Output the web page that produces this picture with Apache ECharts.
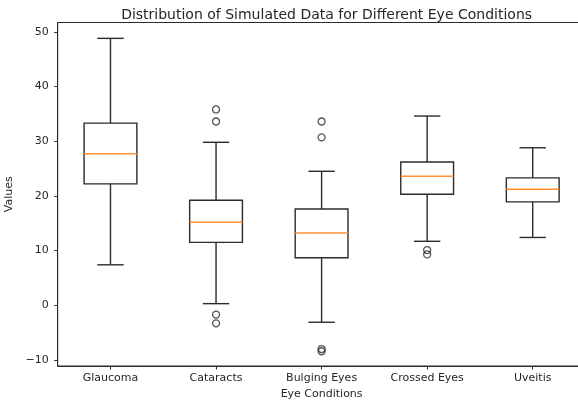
<!DOCTYPE html>
<html>
<head>
<meta charset="utf-8">
<script src="https://cdn.jsdelivr.net/npm/echarts@6/dist/echarts.min.js"></script>
<style>
html,body{margin:0;padding:0;background:#fff;overflow:hidden;width:578px;height:404px;}
#chart{width:586px;height:404px;}
</style>
</head>
<body>
<div id="chart"></div>
<script>
const categories = ['Glaucoma', 'Cataracts', 'Bulging Eyes', 'Crossed Eyes', 'Uveitis'];
const whiskerLow  = [7.4, 0.3, -3.1, 11.7, 12.4];
const q1Values    = [22.2, 11.5, 8.7, 20.3, 18.9];
const medians     = [27.7, 15.2, 13.2, 23.6, 21.2];
const q3Values    = [33.3, 19.2, 17.6, 26.2, 23.3];
const whiskerHigh = [48.8, 29.8, 24.5, 34.6, 28.8];
const outlierCategory = [1, 1, 1, 1, 2, 2, 2, 2, 3, 3];
const outlierValues   = [35.8, 33.6, -1.7, -3.3, 33.6, 30.7, -8.0, -8.4, 10.1, 9.3];
const yTicks = [-10, 0, 10, 20, 30, 40, 50];

const boxData = categories.map((c, i) => [i, whiskerLow[i], q1Values[i], medians[i], q3Values[i], whiskerHigh[i]]);
const outlierData = outlierCategory.map((c, i) => [c, outlierValues[i]]);

const lineColor = '#2b2b2b';
const textColor = '#262626';
const font = 'DejaVu Sans';

function renderItem(params, api) {
  const x = api.value(0);
  const band = api.size([1, 0])[0];
  const w = band * 0.5;
  const cap = w * 0.5;
  const lo = api.coord([x, api.value(1)]);
  const q1 = api.coord([x, api.value(2)]);
  const md = api.coord([x, api.value(3)]);
  const q3 = api.coord([x, api.value(4)]);
  const hi = api.coord([x, api.value(5)]);
  const cx = lo[0];
  const st = {stroke: lineColor, lineWidth: 1.4, fill: null};
  return {
    type: 'group',
    children: [
      {type: 'rect', shape: {x: cx - w / 2, y: q3[1], width: w, height: q1[1] - q3[1]}, style: {stroke: lineColor, lineWidth: 1.4, fill: 'none'}},
      {type: 'line', shape: {x1: cx, y1: q1[1], x2: cx, y2: lo[1]}, style: st},
      {type: 'line', shape: {x1: cx, y1: q3[1], x2: cx, y2: hi[1]}, style: st},
      {type: 'line', shape: {x1: cx - cap / 2, y1: lo[1], x2: cx + cap / 2, y2: lo[1]}, style: st},
      {type: 'line', shape: {x1: cx - cap / 2, y1: hi[1], x2: cx + cap / 2, y2: hi[1]}, style: st},
      {type: 'line', shape: {x1: cx - w / 2, y1: md[1], x2: cx + w / 2, y2: md[1]}, style: {stroke: '#ff8f33', lineWidth: 1.5}}
    ]
  };
}

const chart = echarts.init(document.getElementById('chart'), null, {renderer: 'canvas'});
chart.setOption({
  animation: false,
  backgroundColor: '#fff',
  title: {
    text: 'Distribution of Simulated Data for Different Eye Conditions',
    left: 321.6, textAlign: 'center', top: 3,
    textStyle: {fontFamily: font, fontSize: 14, fontWeight: 'normal', color: textColor}
  },
  grid: {left: 57.7, right: 0.5, top: 22.5, bottom: 38, containLabel: false, outerBoundsMode: 'none',
    show: true, borderColor: lineColor, borderWidth: 1, backgroundColor: 'transparent'},
  xAxis: {
    type: 'category',
    data: categories,
    boundaryGap: true,
    name: 'Eye Conditions',
    nameLocation: 'middle',
    nameGap: 23,
    nameTextStyle: {fontFamily: font, fontSize: 11, color: textColor},
    axisLine: {show: true, onZero: false, lineStyle: {color: lineColor, width: 1}},
    axisTick: {show: true, alignWithLabel: true, length: 3.5, lineStyle: {color: lineColor}},
    axisLabel: {fontFamily: font, fontSize: 11, color: textColor, margin: 7},
    splitLine: {show: false}
  },
  yAxis: {
    type: 'value',
    min: -11.1,
    max: 51.7,
    name: 'Values',
    nameLocation: 'middle',
    nameGap: 37,
    nameTextStyle: {fontFamily: font, fontSize: 11, color: textColor},
    axisLine: {show: true, lineStyle: {color: lineColor, width: 1}},
    axisTick: {show: true, length: 3.5, lineStyle: {color: lineColor}, customValues: yTicks},
    axisLabel: {fontFamily: font, fontSize: 11, color: textColor, margin: 9, customValues: yTicks,
      formatter: v => String(v).replace('-', '\u2212')},
    splitLine: {show: false}
  },
  series: [
    {type: 'custom', renderItem: renderItem, data: boxData, encode: {x: 0, y: [1, 2, 3, 4, 5]}, z: 3},
    {type: 'scatter', data: outlierData, symbol: 'circle', symbolSize: 7,
      itemStyle: {color: 'rgba(0,0,0,0)', borderColor: lineColor, borderWidth: 1.3}, z: 4}
  ]
});
</script>
</body>
</html>
